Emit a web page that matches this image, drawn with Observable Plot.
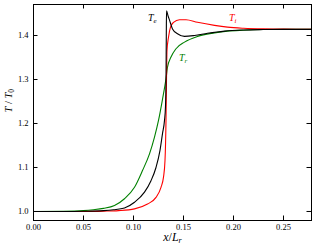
<!DOCTYPE html>
<html><head><meta charset="utf-8">
<script src="https://cdn.jsdelivr.net/npm/d3@7"></script>
<script src="https://cdn.jsdelivr.net/npm/@observablehq/plot@0.6"></script>
<style>body{margin:0;background:#fff}</style>
</head><body><div id="chart"></div>
<script>
const xTicks = [0.00, 0.05, 0.10, 0.15, 0.20, 0.25];
const yTicks = [1.0, 1.1, 1.2, 1.3, 1.4];

// T_r (green)
const trX = [0, 0.03, 0.05, 0.06, 0.07, 0.081, 0.091, 0.101, 0.109, 0.116, 0.121, 0.125, 0.129, 0.1325, 0.134, 0.1375, 0.1425, 0.151, 0.164, 0.181, 0.194, 0.21, 0.23, 0.25, 0.278];
const trY = [1.0, 1.0005, 1.002, 1.004, 1.007, 1.0136, 1.029, 1.055, 1.093, 1.131, 1.169, 1.207, 1.255, 1.302, 1.328, 1.351, 1.370, 1.385, 1.398, 1.406, 1.410, 1.412, 1.4135, 1.414, 1.414];

// T_e (black)
const teX = [0, 0.03, 0.05, 0.07, 0.08, 0.091, 0.101, 0.111, 0.1175, 0.1225, 0.1265, 0.129, 0.131, 0.132, 0.1325, 0.1328, 0.133, 0.1345, 0.136, 0.139, 0.144, 0.151, 0.161, 0.174, 0.191, 0.21, 0.23, 0.25, 0.278];
const teY = [1.0, 1.0, 1.0005, 1.002, 1.004, 1.008, 1.021, 1.044, 1.070, 1.10, 1.139, 1.177, 1.207, 1.24, 1.30, 1.40, 1.456, 1.445, 1.435, 1.415, 1.404, 1.398, 1.400, 1.405, 1.410, 1.4125, 1.4135, 1.414, 1.414];

// T_i (red)
const tiX = [0, 0.05, 0.07, 0.085, 0.101, 0.114, 0.1225, 0.1275, 0.130, 0.1315, 0.1325, 0.133, 0.1335, 0.135, 0.137, 0.140, 0.146, 0.1525, 0.164, 0.181, 0.194, 0.21, 0.23, 0.25, 0.278];
const tiY = [1.0, 1.0, 1.0008, 1.002, 1.006, 1.017, 1.032, 1.055, 1.078, 1.116, 1.207, 1.30, 1.366, 1.396, 1.419, 1.430, 1.436, 1.436, 1.430, 1.423, 1.419, 1.4165, 1.415, 1.4145, 1.414];

const labelText = ["T_e", "T_i", "T_r"];
const labelX = [0.1145, 0.1955, 0.1455];
const labelY = [1.441, 1.441, 1.35];
const labelColor = ["#000000", "#ff0000", "#008000"];

const rows = (xs, ys) => xs.map((x, i) => ({x, y: ys[i]}));
const labels = labelText.map((t, i) => ({t, x: labelX[i], y: labelY[i], c: labelColor[i]}));

const W = 316, H = 250, ML = 33, MR = 5, MT = 4, MB = 30, TK = 4.5;
const fw = W - ML - MR, fh = H - MT - MB;
const xDom = [0, 0.278], yDom = [0.9795, 1.4705];
const tkx = TK / fw * (xDom[1] - xDom[0]);
const tky = TK / fh * (yDom[1] - yDom[0]);

const plot = Plot.plot({
  width: W, height: H,
  marginLeft: ML, marginRight: MR, marginTop: MT, marginBottom: MB,
  style: {fontFamily: "'Liberation Serif', serif", fontSize: "8.5px", color: "black", background: "white", overflow: "visible"},
  x: {domain: xDom},
  y: {domain: yDom},
  marks: [
    Plot.line(rows(trX, trY), {x: "x", y: "y", stroke: "#008000", strokeWidth: 1.1, curve: "monotone-x"}),
    Plot.line(rows(tiX, tiY), {x: "x", y: "y", stroke: "#ff0000", strokeWidth: 1.1, curve: "monotone-x"}),
    Plot.line(rows(teX, teY), {x: "x", y: "y", stroke: "#000000", strokeWidth: 1.1, curve: "monotone-x"}),
    Plot.axisX({ticks: xTicks, tickSize: 0, tickPadding: 3, tickFormat: d3.format(".2f"), label: null}),
    Plot.axisY({ticks: yTicks, tickSize: 0, tickPadding: 5, tickFormat: d3.format(".1f"), label: null}),
    Plot.ruleX(xTicks, {x: d => d, y1: yDom[0], y2: yDom[0] + tky, stroke: "black"}),
    Plot.ruleX(xTicks, {x: d => d, y1: yDom[1] - tky, y2: yDom[1], stroke: "black"}),
    Plot.ruleY(yTicks, {y: d => d, x1: xDom[0], x2: xDom[0] + tkx, stroke: "black"}),
    Plot.ruleY(yTicks, {y: d => d, x1: xDom[1] - tkx, x2: xDom[1], stroke: "black"}),
    Plot.frame({stroke: "black", strokeWidth: 1}),
    Plot.text(labels, {x: "x", y: "y", text: "t", fill: "c", textAnchor: "start", fontSize: 10}),
    Plot.text(["T / T_0"], {frameAnchor: "left", dx: -25, rotate: -90, fontSize: 10.5}),
    Plot.text(["x/L_r"], {frameAnchor: "bottom", dy: 20, fontSize: 12})
  ]
});

const rich = {
  "T_e": '<tspan font-style="italic">T</tspan><tspan dy="2.5" font-size="7" font-style="italic">e</tspan>',
  "T_i": '<tspan font-style="italic">T</tspan><tspan dy="2.5" font-size="7" font-style="italic">i</tspan>',
  "T_r": '<tspan font-style="italic">T</tspan><tspan dy="2.5" font-size="7" font-style="italic">r</tspan>',
  "T / T_0": '<tspan font-style="italic">T</tspan> / <tspan font-style="italic">T</tspan><tspan dy="2.5" font-size="7.5">0</tspan>',
  "x/L_r": '<tspan font-style="italic">x</tspan>/<tspan font-style="italic">L</tspan><tspan dy="2.5" font-size="8" font-style="italic">r</tspan>'
};
plot.querySelectorAll("text").forEach(t => {
  const k = t.textContent;
  if (rich[k]) t.innerHTML = rich[k];
});
document.getElementById("chart").appendChild(plot);
</script>
</body></html>
